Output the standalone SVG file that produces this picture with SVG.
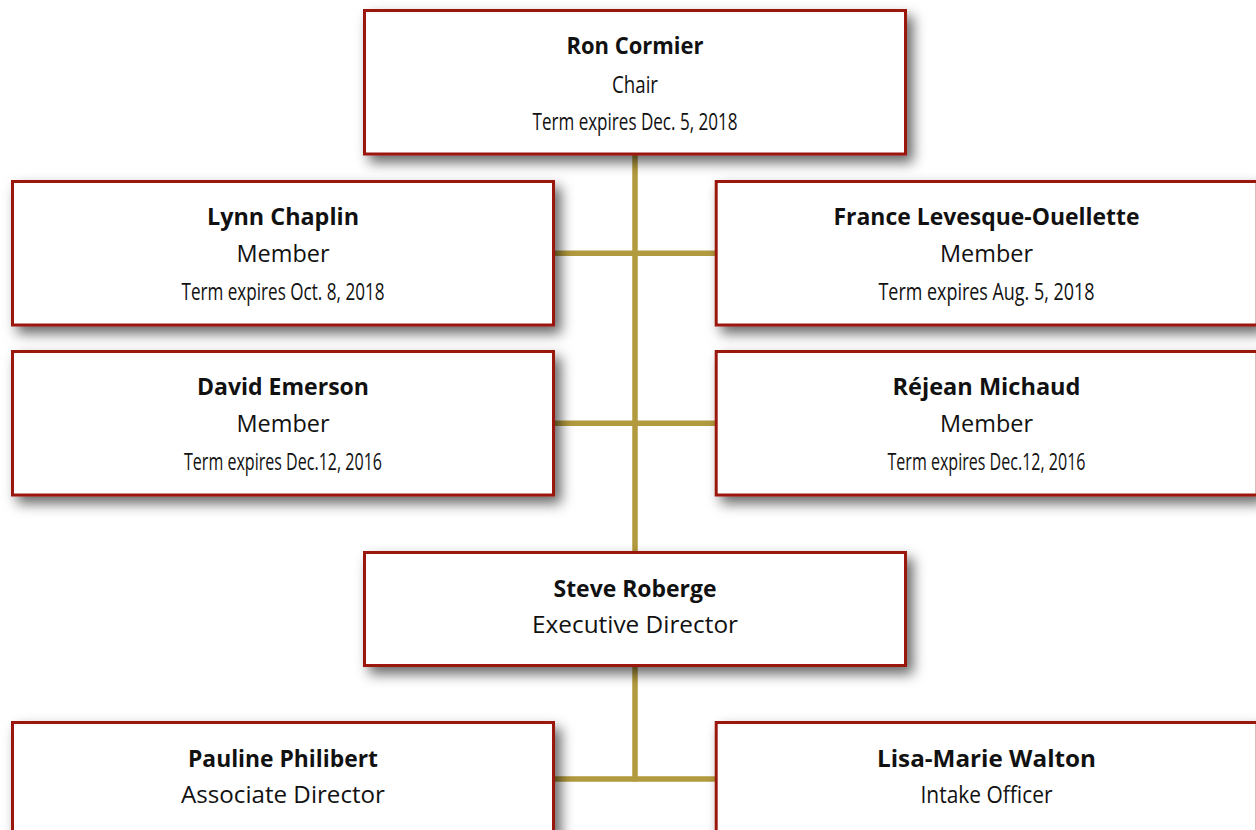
<svg xmlns="http://www.w3.org/2000/svg" width="1256" height="830" viewBox="0 0 1256 830">
<defs>
<filter id="sh" x="-10%" y="-25%" width="130%" height="160%">
<feDropShadow dx="6" dy="7" stdDeviation="6.5" flood-color="#000" flood-opacity="0.6"/>
</filter>
<style>
.box{fill:#fff;stroke:#9b1711;stroke-width:3;filter:url(#sh)}
.con{stroke:#b29a3e;stroke-width:5.5;fill:none}
text{font-family:"Open Sans","Noto Sans","Liberation Sans",sans-serif;fill:#111;text-anchor:middle}
.n{font-weight:bold;font-size:23px}
.t{font-size:23.5px}
.e{font-size:23px}
</style>
</defs>
<rect width="1256" height="830" fill="#fff"/>
<g id="connectors">
<line class="con" x1="635" y1="150" x2="635" y2="781.5"/>
<line class="con" x1="553" y1="253.3" x2="717" y2="253.3"/>
<line class="con" x1="553" y1="423.2" x2="717" y2="423.2"/>
<line class="con" x1="553" y1="779" x2="717" y2="779"/>
</g>
<g id="chair">
<rect class="box" x="364.5" y="10.5" width="541" height="143.5"/>
<text class="n" x="635" y="54" textLength="137" lengthAdjust="spacingAndGlyphs">Ron Cormier</text>
<text class="t" x="635" y="92.5" textLength="46" lengthAdjust="spacingAndGlyphs">Chair</text>
<text class="e" x="635" y="129.5" textLength="205" lengthAdjust="spacingAndGlyphs">Term expires Dec. 5, 2018</text>
</g>
<g id="lynn">
<rect class="box" x="12.5" y="181.5" width="541" height="143.5"/>
<text class="n" x="283" y="225" textLength="152" lengthAdjust="spacingAndGlyphs">Lynn Chaplin</text>
<text class="t" x="283" y="262" textLength="93" lengthAdjust="spacingAndGlyphs">Member</text>
<text class="e" x="283" y="299.5" textLength="203" lengthAdjust="spacingAndGlyphs">Term expires Oct. 8, 2018</text>
</g>
<g id="france">
<rect class="box" x="716.2" y="181.5" width="541" height="143.5"/>
<text class="n" x="986.5" y="225" textLength="306" lengthAdjust="spacingAndGlyphs">France Levesque-Ouellette</text>
<text class="t" x="986.5" y="262" textLength="93" lengthAdjust="spacingAndGlyphs">Member</text>
<text class="e" x="986.5" y="299.5" textLength="216" lengthAdjust="spacingAndGlyphs">Term expires Aug. 5, 2018</text>
</g>
<g id="david">
<rect class="box" x="12.5" y="351.5" width="541" height="143.5"/>
<text class="n" x="283" y="395" textLength="172" lengthAdjust="spacingAndGlyphs">David Emerson</text>
<text class="t" x="283" y="432" textLength="93" lengthAdjust="spacingAndGlyphs">Member</text>
<text class="e" x="283" y="469.5" textLength="198" lengthAdjust="spacingAndGlyphs">Term expires Dec.12, 2016</text>
</g>
<g id="rejean">
<rect class="box" x="716.2" y="351.5" width="541" height="143.5"/>
<text class="n" x="986.5" y="395" textLength="188" lengthAdjust="spacingAndGlyphs">Réjean Michaud</text>
<text class="t" x="986.5" y="432" textLength="93" lengthAdjust="spacingAndGlyphs">Member</text>
<text class="e" x="986.5" y="469.5" textLength="198" lengthAdjust="spacingAndGlyphs">Term expires Dec.12, 2016</text>
</g>
<g id="steve">
<rect class="box" x="364.5" y="552.5" width="541" height="113"/>
<text class="n" x="635" y="596.5" textLength="163" lengthAdjust="spacingAndGlyphs">Steve Roberge</text>
<text class="t" x="635" y="633" textLength="206" lengthAdjust="spacingAndGlyphs">Executive Director</text>
</g>
<g id="pauline">
<rect class="box" x="12.5" y="722.5" width="541" height="113"/>
<text class="n" x="283" y="766.5" textLength="190" lengthAdjust="spacingAndGlyphs">Pauline Philibert</text>
<text class="t" x="283" y="803" textLength="204" lengthAdjust="spacingAndGlyphs">Associate Director</text>
</g>
<g id="lisa">
<rect class="box" x="716.2" y="722.5" width="541" height="113"/>
<text class="n" x="986.5" y="766.5" textLength="219" lengthAdjust="spacingAndGlyphs">Lisa-Marie Walton</text>
<text class="t" x="986.5" y="803" textLength="132" lengthAdjust="spacingAndGlyphs">Intake Officer</text>
</g>
</svg>
